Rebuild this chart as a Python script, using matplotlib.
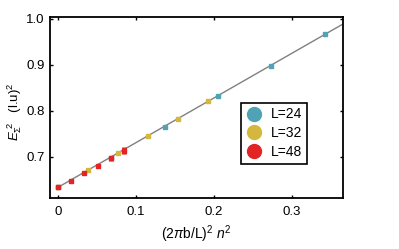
import matplotlib
matplotlib.use("Agg")
import matplotlib.pyplot as plt
from matplotlib.lines import Line2D

plt.rcParams['font.family'] = ['Liberation Sans', 'DejaVu Sans']
plt.rcParams['mathtext.fontset'] = 'custom'
plt.rcParams['mathtext.rm'] = 'Liberation Sans'
plt.rcParams['mathtext.it'] = 'Liberation Sans:italic'

# data
x24 = [0, 0.0685, 0.137, 0.2055, 0.274, 0.3425]
y24 = [0.633, 0.698, 0.765, 0.833, 0.897, 0.967]
e24 = [0.001, 0.001, 0.002, 0.002, 0.002, 0.004]

x32 = [0, 0.0385, 0.077, 0.1155, 0.154, 0.1925]
y32 = [0.633, 0.672, 0.709, 0.746, 0.783, 0.821]
e32 = [0.001, 0.001, 0.001, 0.001, 0.001, 0.001]

x48 = [0, 0.017, 0.034, 0.051, 0.068, 0.085]
y48 = [0.633, 0.648, 0.664, 0.680, 0.696, 0.713]
e48 = [0.001, 0.003, 0.004, 0.005, 0.006, 0.007]

labels = ["L=24", "L=32", "L=48"]
colors = ["#4fa3b4", "#d4b73e", "#e22424"]

# linear fit drawn through the points
fit_x = [0, 0.37]
intercept = 0.633
slope = 0.972

fig = plt.figure(figsize=(3.99, 2.49), dpi=100)
ax = fig.add_axes([0.1253, 0.2048, 0.7343, 0.7269])

ax.plot(fit_x, [intercept + slope * v for v in fit_x], color="#808080", lw=1, zorder=1)

for xs, ys, es, c in zip([x24, x32, x48], [y24, y32, y48], [e24, e32, e48], colors):
    ax.errorbar(xs, ys, yerr=es, fmt="s", ms=3.5, color=c, mec=c,
                elinewidth=3.5, capsize=0, zorder=2)

ax.set_xlim(-0.01, 0.366)
ax.set_ylim(0.61, 1.004)
ax.set_xticks([0, 0.1, 0.2, 0.3])
ax.set_xticklabels(["0", "0.1", "0.2", "0.3"])
ax.set_yticks([0.7, 0.8, 0.9, 1.0])
ax.set_yticklabels(["0.7", "0.8", "0.9", "1.0"])
ax.tick_params(direction="in", length=2.5, width=1, labelsize=9.5,
               top=True, right=True)
ax.tick_params(axis="y", pad=4)
ax.tick_params(axis="x", pad=6)
for s in ax.spines.values():
    s.set_linewidth(1.3)

ax.set_xlabel(r"$(2\pi$b/L$)^2\ n^2$", fontsize=10, labelpad=4)
ax.set_ylabel(r"$E_{\Sigma}^{\ 2}$   (l.u)$^2$", fontsize=9.5)
ax.yaxis.set_label_coords(-0.089, 0.475)

handles = [Line2D([], [], marker="o", ls="", ms=10, color=c, mec=c) for c in colors]
leg = ax.legend(handles, labels, loc="lower left", bbox_to_anchor=(0.652, 0.188),
                borderaxespad=0, fancybox=False, framealpha=1, edgecolor="black",
                fontsize=10, handletextpad=0.6, labelspacing=0.35, borderpad=0.35,
                handlelength=1.2)
leg.get_frame().set_linewidth(1.2)

fig.savefig("out.png", dpi=100)
